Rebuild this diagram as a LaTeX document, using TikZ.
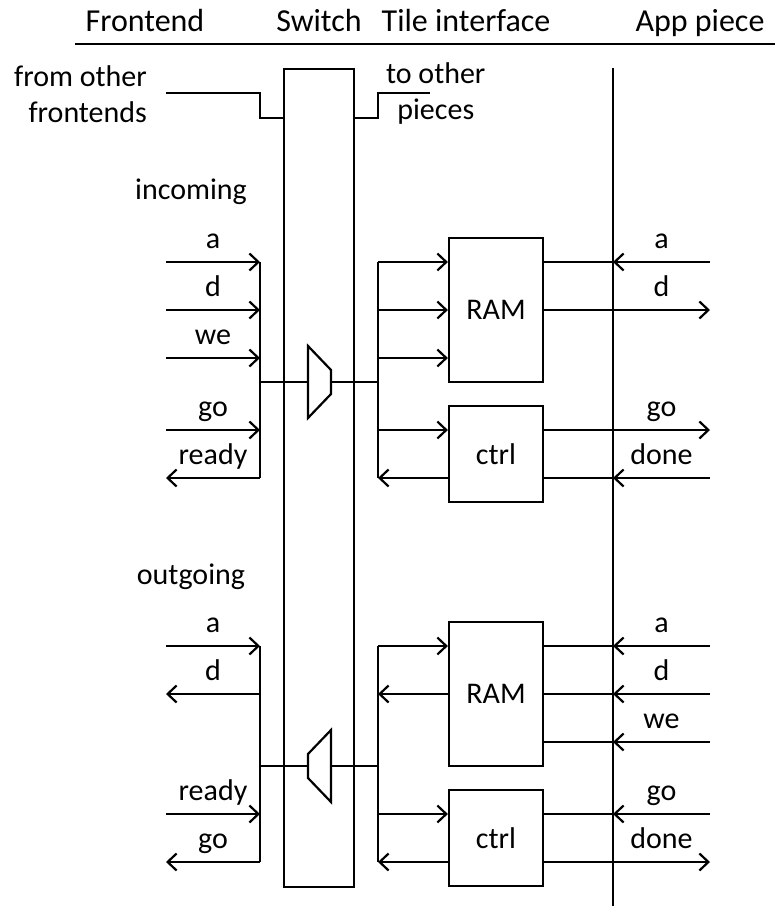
\documentclass[tikz,border=0pt]{standalone}
\usepackage{fontspec}
\setmainfont{Carlito}
\usetikzlibrary{arrows.meta}

\begin{document}
\begin{tikzpicture}[
    x=1pt, y=-1pt,
    line width=2.2pt,
    >={Straight Barb[length=9pt,width=17pt]},
    font=\fontsize{30}{36}\selectfont,
    block/.style={draw, rectangle, minimum width=94pt, inner sep=0pt},
    sig/.style={anchor=base, yshift=14pt, inner sep=0pt},
    head/.style={anchor=base, inner sep=0pt, font=\fontsize{32}{38}\selectfont}
]
\useasboundingbox (0,0) rectangle (775,909);

% Columns and rows
\coordinate (FE) at (166,0);
\coordinate (LB) at (260,0);
\coordinate (RB) at (378,0);
\coordinate (AP) at (613,0);
\coordinate (AE) at (710,0);
\coordinate (rTOP) at (0,93);
\coordinate (rJOG) at (0,118);
\coordinate (iA)   at (0,262);
\coordinate (iD)   at (0,310);
\coordinate (iWE)  at (0,358);
\coordinate (iMUX) at (0,382);
\coordinate (iGO)  at (0,430);
\coordinate (iRDY) at (0,478);
\coordinate (oA)   at (0,646);
\coordinate (oD)   at (0,694);
\coordinate (oWE)  at (0,742);
\coordinate (oMUX) at (0,766);
\coordinate (oRDY) at (0,814);
\coordinate (oGO)  at (0,862);

% Header
\node[head] (FEND) at (145,32) {Frontend};
\node[head] (SWT)  at (319,32) {Switch};
\node[head] (TILE) at (466,32) {Tile interface};
\node[head] (APP)  at (700,32) {App piece};
\coordinate (HL) at (75,44);
\coordinate (HR) at (775,44);
\draw (HL) -- (HR);

% Switch and app boundary
\node[draw, minimum width=70pt, minimum height=818pt, inner sep=0pt] (SW) at (319,478) {};
\coordinate (APtop) at (613,68);
\coordinate (APbot) at (613,906);
\draw (APtop) -- (APbot);

% Links to other frontends / pieces
\node[align=right, anchor=east, inner sep=0pt] (FROM) at (148,94) {from other\\frontends};
\node[align=center, anchor=west, inner sep=0pt] (TO) at (385,94) {to other\\pieces};
\coordinate (TOend) at (430,93);
\draw (FE |- rTOP) -| (LB |- rJOG) -- (SW.west |- rJOG);
\draw (SW.east |- rJOG) -| (RB |- rTOP) -- (TOend);

% Incoming
\node[anchor=base, inner sep=0pt] (INC) at (191,200) {incoming};
\node[block, minimum height=144pt] (RAMi) at (496,310) {RAM};
\node[block, minimum height=96pt]  (CTLi) at (496,454) {ctrl};
\coordinate (MUXiL) at (308,382);
\coordinate (MUXiR) at (331,382);
\draw (MUXiL) ++(0,-36) -- ++(23,24) -- ++(0,24) -- ++(-23,24) -- cycle;

\draw[->] (FE |- iA)  -- (LB |- iA)  node[sig, midway] {a};
\draw[->] (FE |- iD)  -- (LB |- iD)  node[sig, midway] {d};
\draw[->] (FE |- iWE) -- (LB |- iWE) node[sig, midway] {we};
\draw[->] (FE |- iGO) -- (LB |- iGO) node[sig, midway] {go};
\draw[->] (LB |- iRDY) -- (FE |- iRDY) node[sig, midway] {ready};
\draw (LB |- iA) -- (LB |- iRDY);
\draw (LB |- iMUX) -- (MUXiL);
\draw (MUXiR) -- (RB |- iMUX);
\draw (RB |- iA) -- (RB |- iRDY);
\draw[->] (RB |- iA)  -- (RAMi.west |- iA);
\draw[->] (RB |- iD)  -- (RAMi.west |- iD);
\draw[->] (RB |- iWE) -- (RAMi.west |- iWE);
\draw[->] (RB |- iGO) -- (CTLi.west |- iGO);
\draw[->] (CTLi.west |- iRDY) -- (RB |- iRDY);

\draw (RAMi.east |- iA) -- (AP |- iA);
\draw[->] (AE |- iA) -- (AP |- iA) node[sig, midway] {a};
\draw[->] (RAMi.east |- iD) -- (AE |- iD);
\path (AP |- iD) -- (AE |- iD) node[sig, midway] {d};
\draw[->] (CTLi.east |- iGO) -- (AE |- iGO);
\path (AP |- iGO) -- (AE |- iGO) node[sig, midway] {go};
\draw (CTLi.east |- iRDY) -- (AP |- iRDY);
\draw[->] (AE |- iRDY) -- (AP |- iRDY) node[sig, midway] {done};

% Outgoing
\node[anchor=base, inner sep=0pt] (OUTG) at (191,584) {outgoing};
\node[block, minimum height=144pt] (RAMo) at (496,694) {RAM};
\node[block, minimum height=96pt]  (CTLo) at (496,838) {ctrl};
\coordinate (MUXoL) at (308,766);
\coordinate (MUXoR) at (331,766);
\draw (MUXoL) ++(0,-12) -- ++(23,-24) -- ++(0,72) -- ++(-23,-24) -- cycle;

\draw[->] (FE |- oA)  -- (LB |- oA)  node[sig, midway] {a};
\draw[->] (LB |- oD)  -- (FE |- oD)  node[sig, midway] {d};
\draw[->] (FE |- oRDY) -- (LB |- oRDY) node[sig, midway] {ready};
\draw[->] (LB |- oGO) -- (FE |- oGO) node[sig, midway] {go};
\draw (LB |- oA) -- (LB |- oGO);
\draw (LB |- oMUX) -- (MUXoL);
\draw (MUXoR) -- (RB |- oMUX);
\draw (RB |- oA) -- (RB |- oGO);
\draw[->] (RB |- oA) -- (RAMo.west |- oA);
\draw[->] (RAMo.west |- oD) -- (RB |- oD);
\draw[->] (RB |- oRDY) -- (CTLo.west |- oRDY);
\draw[->] (CTLo.west |- oGO) -- (RB |- oGO);

\draw (RAMo.east |- oA) -- (AP |- oA);
\draw (RAMo.east |- oD) -- (AP |- oD);
\draw (RAMo.east |- oWE) -- (AP |- oWE);
\draw (CTLo.east |- oRDY) -- (AP |- oRDY);
\draw[->] (AE |- oA)  -- (AP |- oA)  node[sig, midway] {a};
\draw[->] (AE |- oD)  -- (AP |- oD)  node[sig, midway] {d};
\draw[->] (AE |- oWE) -- (AP |- oWE) node[sig, midway] {we};
\draw[->] (AE |- oRDY) -- (AP |- oRDY) node[sig, midway] {go};
\draw[->] (CTLo.east |- oGO) -- (AE |- oGO);
\path (AP |- oGO) -- (AE |- oGO) node[sig, midway] {done};

\end{tikzpicture}
\end{document}
